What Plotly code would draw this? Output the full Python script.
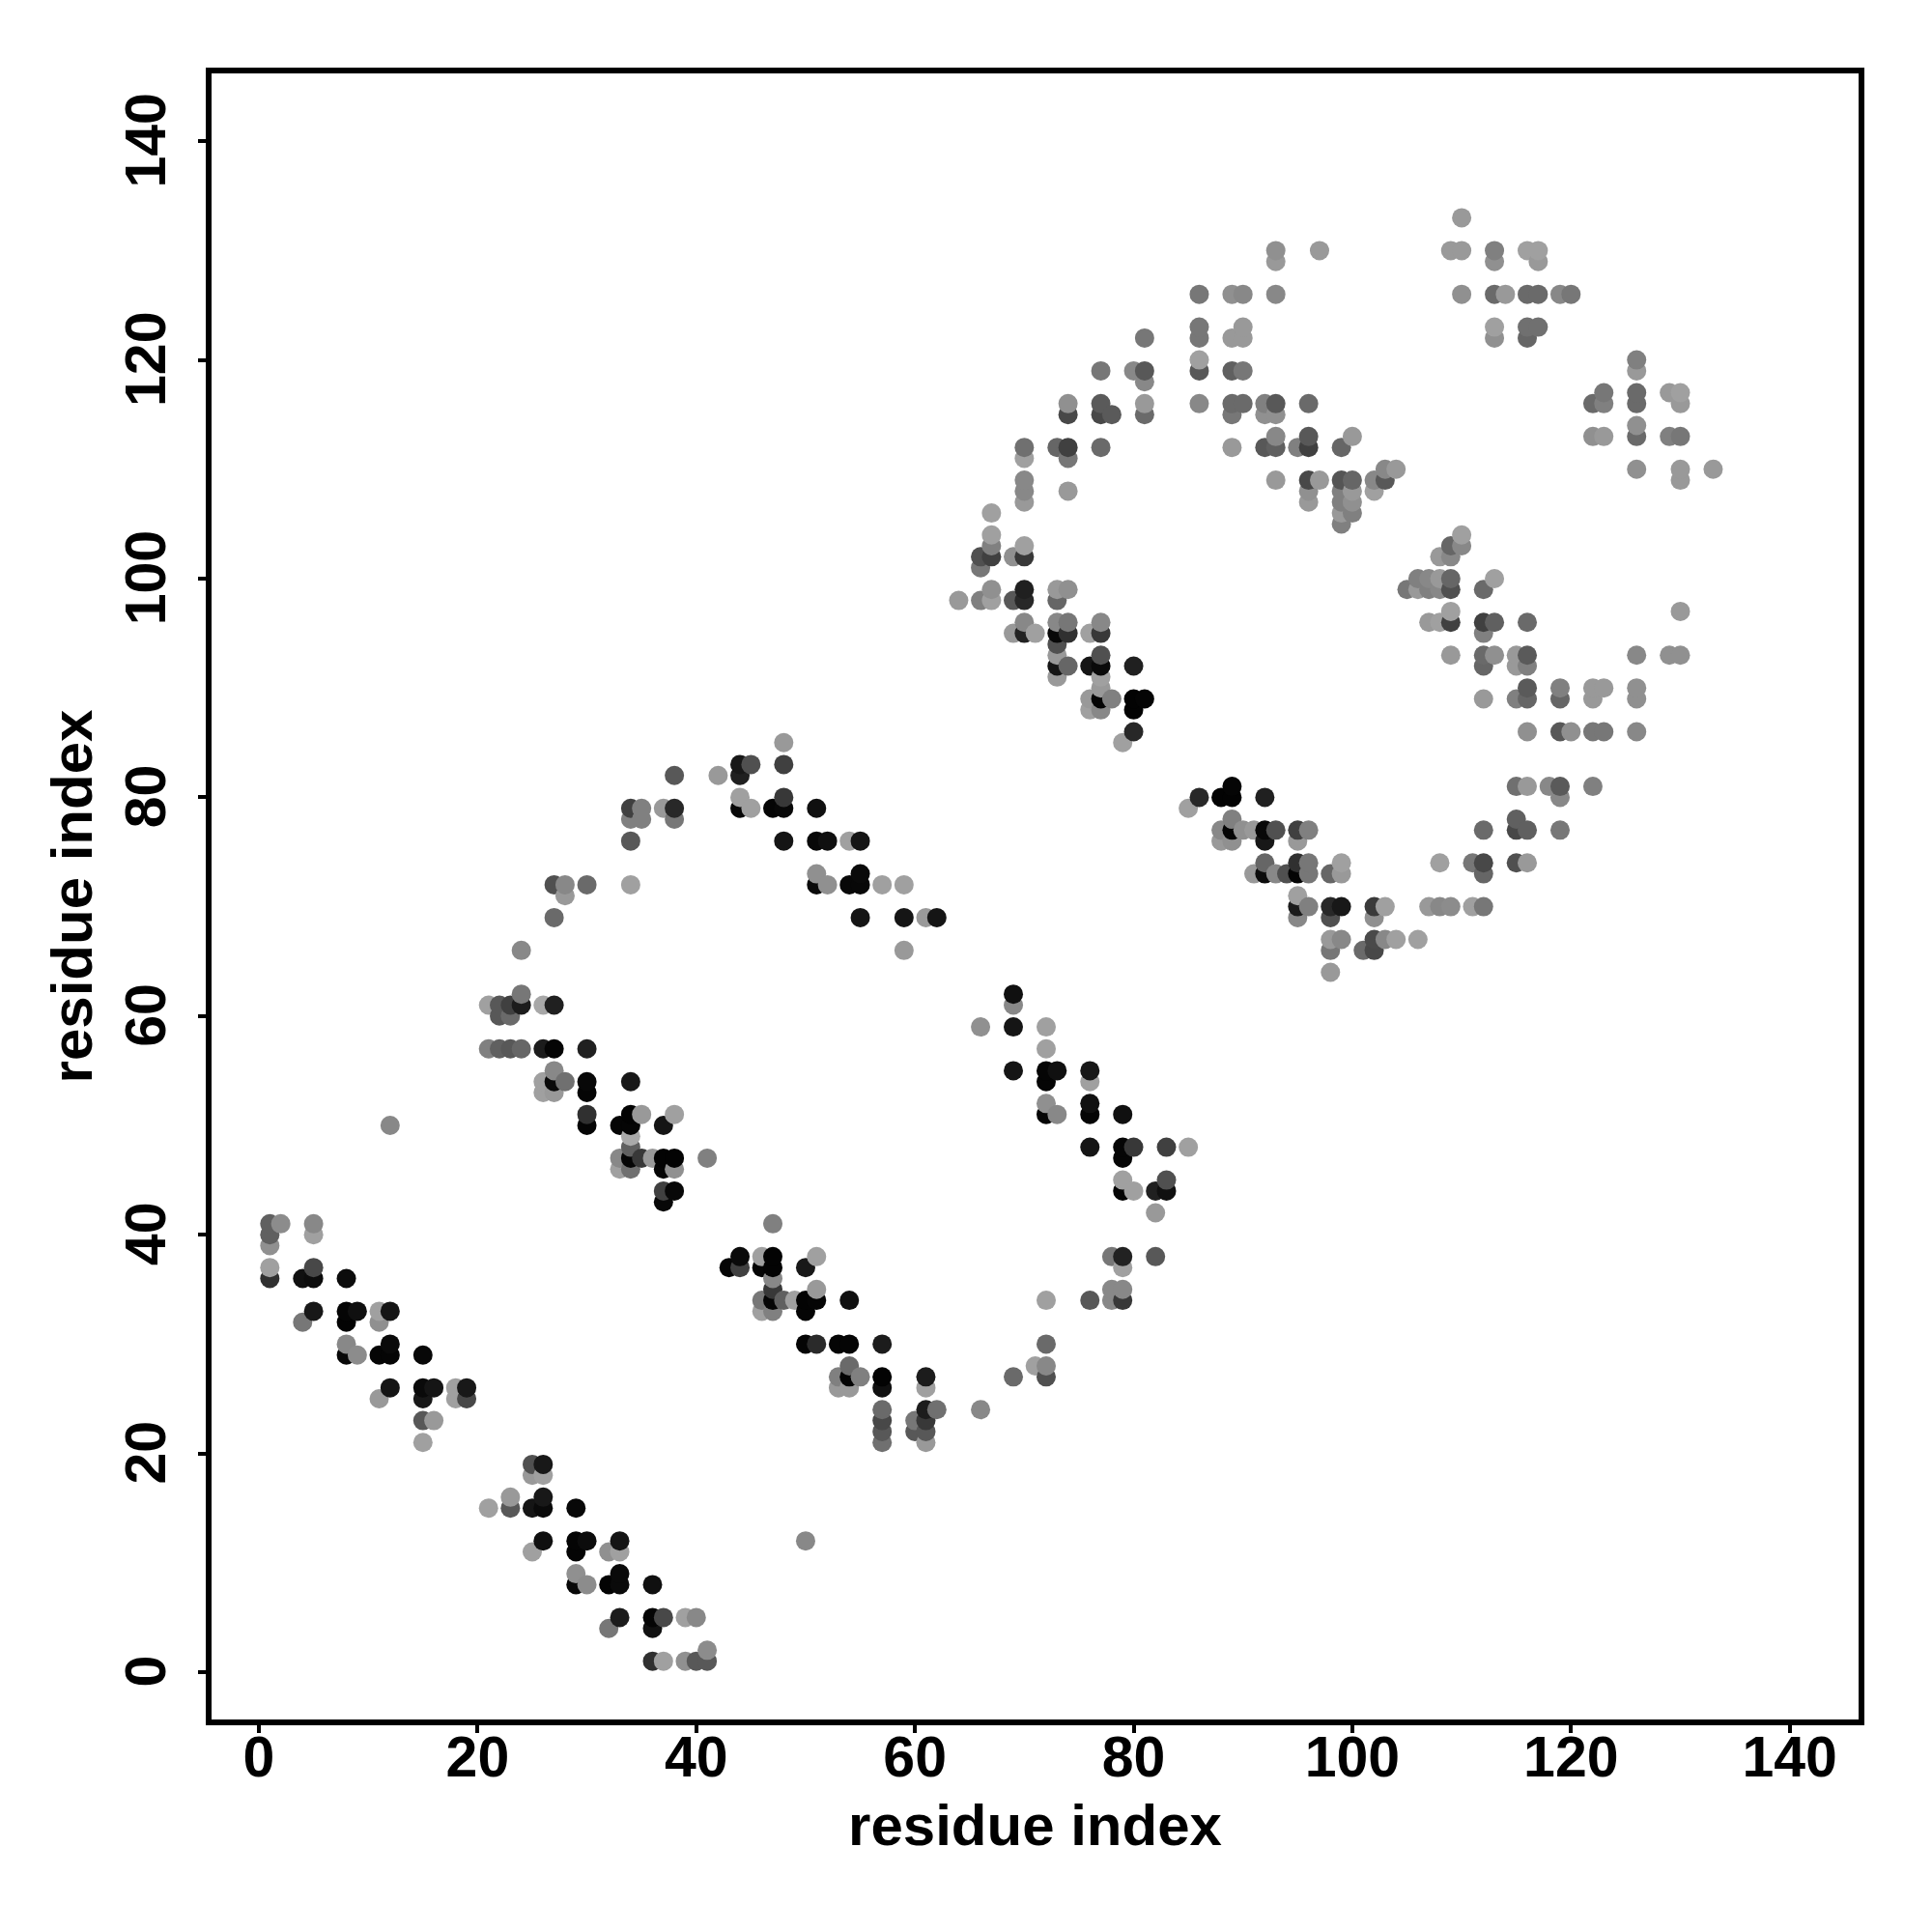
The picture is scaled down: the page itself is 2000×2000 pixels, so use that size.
import numpy as np
import plotly.graph_objects as go

# Contact-map rows: residue index on y, partners on x, grey level (0=black, 255=white)
row_y = [1,2,4,5,8,9,11,12,15,16,18,19,21,22,23,24,25,26,27,28,29,30,32,33,34,35,36,37,38,39,40,41,42,43,44,45,46,47,48,49,50,51,52,53,54,55,57,59,60,61,62,64,66,67,69,70,71,72,73,74,76,77,78,79,80,81,82,83,85,86,88,89,90,91,92,93,94,95,96,97,98,99,100,101,102,103,104,105,106,107,108,109,110,111,112,113,114,115,116,117,118,119,120,122,123,126,129,130,133]

row_x = [
[36,37,39,40,41],[41],[32,36],[33,36,37,39,40],[29,30,32,33,36],[29,33],[25,29,32,33],[26,29,30,33,50],
[21,23,25,26,29],[23,26],[25,26],[25,26],[15,57,61],[57,60,61],[15,16,57,60,61],[57,61,62,66],[11,15,18,19],
[12,15,16,18,19,53,54,57,61],[53,54,55,57,61,69,72],[54,71,72],[8,9,11,12,15],[8,12,50,51,53,54,57,72],[4,8,11],
[5,8,9,11,12,46,47,50],[46,47,48,49,50,51,54,72,76,78,79],[47,51,78,79],[1,4,5,8,47],[1,5,43,44,46,47,50,79],
[44,46,47,51,78,79,82],[1],[1,5],[1,2,5,47],[82],[37],[37,38,79,80,82,83],[79,83],[33,34,37,38],
[33,34,35,36,37,38,41,79],[34,76,79,80,83,85],[34],[12,30,33,34,37],[30,34,35,38,72,73,76,79],[72,76],[26,27,30],
[26,27,28,30,34,72,76],[27,69,72,73,76],[21,22,23,24,26,27,30,72],[66,69,72],[22,23],[21,22,23,24,26,27,69],[24,69],
[98],[24,59,98,101,102],[98,99,102,103,104,106],[27,55,59,61,62,95,98,102],[95,96,98,99,102,103,107,108,109,111,112],
[28,95],[27,28,30,34,51,52,54,55,57,59],[51,55,91,92,93,94,95,96,98,99,112],[92,95,96,99,108,111,112,115,116],
[34,48,51,52,54,55,88,89,92,95],[88,89,90,91,92,93,95,96,112,115,116,119],[34,35,38,89,115],[34,35,37,38,44,45,47,48,51,85],
[44,48,86,88,89,92,119],[89,115,116,118,119,122],[38,42,44],[44,45,48],[48,79],[80,116,119,120,122,123,126],[76,77,80],
[76,77,78,80,81,112,115,116,119,122,126],[77,116,119,122,123,126],[73,77],[73,74,76,77,80,112,115,116],
[73,77,109,112,113,115,116,126,129,130],[73],[69,70,71,73,74,76,77,112],[70,73,74,77,107,108,109,112,113,116],[109,130],
[64,66,67,69,70,73],[67,70,73,74,105,106,107,108,109,112],[106,107,108,109,113],[66],[66,67,69,70,108,109],[67,70,109,110],
[67,110],[99],[67,99,100],[70,96,99,100],[70,74,96,99,100,102],[70,93,96,97,99,100,102,103,130],[103,104,126,130,133],
[70,74],[70,73,74,77,89,92,93,95,96,99],[93,96,100,122,123,126,129,130],[126],[74,77,78,81,89,92,93],
[74,77,81,86,89,90,92,93,96,122,123,126,130],[123,126,129,130],[81],[77,80,81,86,89,90,126],[86,126],[81,86,89,90,113,116],
[86,90,113,116,117],[86,89,90,93,110,113,114,116,117,119,120],[93,113,117],[93,97,109,110,113,116,117],[110],
]

row_shade = [
[48,160,144,88,88],[140],[119,17],[28,5,72,160,136],[8,140,3,10,16],[144,10],[160,5,144,160],[16,5,12,21,136],
[160,88,21,10,8],[153,24],[153,160],[80,24],[160,112,153],[88,88,88],[88,153,72,119,56],[106,28,112,136],[153,24,160,72],
[21,10,21,160,24,153,153,16,160],[128,3,128,3,28,106,80],[106,160,136],[8,140,5,5,8],[136,10,5,42,5,5,28,106],[119,3,144],
[24,5,16,160,21,160,128,5],[119,5,96,160,3,5,16,160,88,136,56],[56,153,136,136],[48,16,12,12,136],[160,72,5,64,5,3,24,160],
[10,160,3,160,119,34,88],[144],[96,160],[96,140,136,128],[153],[8],[64,8,5,160,32,16],[160,80],[160,112,5,144],
[136,5,56,153,3,3,128,5],[96,21,5,56,64,160],[170],[136,5,5,5,21],[48,3,153,160,5,136,5,16],[144,16],[160,153,5],
[160,10,112,8,24,5,160],[136,21,5,16,24],[128,96,88,102,28,5,32,160],[144,21,160],[88,106],[160,88,64,28,168,32,136],[119,16],
[153],[136,153,119,106,72],[153,136,74,136,160,160],[106,21,21,153,21,136,80,144],[28,128,40,24,58,160,153,136,140,160,119],
[153,160],[80,136,106,160,10,144,8,8,160,160],[144,10,153,12,136,80,5,119,102,153,102],[102,48,119,160,160,119,72,80,153],
[88,21,8,16,160,21,153,144,24,153],[136,5,144,153,8,80,64,128,106,72,96,119],[128,128,119,128,96],[64,128,153,40,8,160,5,8,16,160],
[160,56,40,3,3,32,136],[5,112,153,136,90,128],[88,153,32],[24,80,64],[153,160],[40,144,88,144,119,119,136],[160,136,3],
[153,5,128,3,5,153,128,102,102,153,144],[153,90,128,153,153,144],[153,160],[21,102,21,10,32,102,153,128],
[153,80,153,106,144,153,90,136,144,144],[80],[153,34,160,8,48,160,56,128],[136,136,119,136,153,160,64,64,96,106],[160,153],
[153,128,160,88,40,102],[144,32,153,144,119,153,128,136,80,106],[128,136,153,102,160],[119],[80,64,144,56,153,136],[128,160,102,136],
[160,160],[128],[160,153,128],[153,153,128,144],[136,153,144,128,153,160],[136,153,72,153,85,102,136,88,153],[136,153,144,153,153],
[160,119],[112,102,64,106,153,88,96,128,64,102],[136,88,153,144,153,106,128,119],[144],[72,72,90,106,119,144,144],
[144,90,153,136,106,106,128,88,106,106,128,106,153],[119,106,153,160],[136],[119,136,88,88,96,119,153],[160,128],[119,119,153,153,144,102],
[119,153,160,112,112],[119,144,136,136,144,106,153,106,106,136,119],[153,144,153],[144,153,153,153,128,160,160],[153],
]

tick_values = [0, 20, 40, 60, 80, 100, 120, 140]
axis_label = "residue index"

x = np.concatenate(row_x)
y = np.concatenate([[yy] * len(xs) for yy, xs in zip(row_y, row_x)])
shade = np.concatenate(row_shade)
order = np.lexsort((y, x))

fig = go.Figure(go.Scatter(
    x=x[order], y=y[order], mode="markers",
    marker=dict(size=20, color=shade[order], cmin=0, cmax=255,
                colorscale=[[0, "rgb(0,0,0)"], [1, "rgb(255,255,255)"]],
                showscale=False, line=dict(width=0)),
))

font = "Liberation Sans, Arial, sans-serif"
axis = dict(
    tickvals=tick_values, ticktext=[str(t) for t in tick_values],
    showgrid=False, zeroline=False, showline=True, mirror=True,
    linecolor="black", linewidth=6, ticks="outside", ticklen=8, tickwidth=4, tickcolor="black",
    tickfont=dict(family=font, size=59, color="black", weight="bold"),
)
title_font = dict(family=font, size=60, color="black", weight="bold")
fig.update_layout(
    width=2000, height=2000, showlegend=False,
    paper_bgcolor="white", plot_bgcolor="white",
    margin=dict(l=211, r=84, t=68, b=228, autoexpand=False),
    xaxis=dict(axis, range=[-4.33, 146.3], ticklabelstandoff=-26,
               title=dict(text=axis_label, standoff=19, font=title_font)),
    yaxis=dict(axis, range=[-4.33, 146.2], tickangle=-90, ticklabelstandoff=10, ticklabelshift=8,
               title=dict(text=axis_label, standoff=5, font=title_font)),
)
fig.write_html("out.html")
